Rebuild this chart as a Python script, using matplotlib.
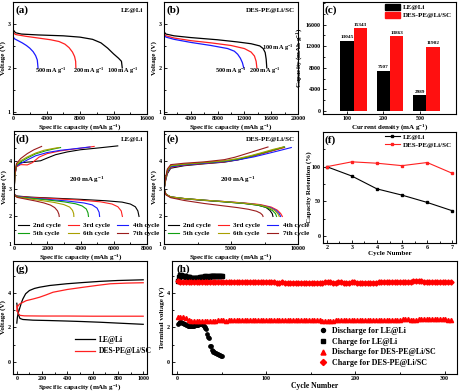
import numpy as np
import matplotlib
matplotlib.use("Agg")
import matplotlib.pyplot as plt
from matplotlib.ticker import AutoMinorLocator, NullLocator
from matplotlib.patches import Patch

plt.rcParams['font.family'] = ['Liberation Serif', 'DejaVu Serif']
plt.rcParams['font.weight'] = 'bold'
plt.rcParams['axes.labelweight'] = 'bold'
plt.rcParams['mathtext.fontset'] = 'custom'
plt.rcParams['mathtext.rm'] = 'Liberation Serif:bold'
plt.rcParams['mathtext.it'] = 'Liberation Serif:bold:italic'
plt.rcParams['mathtext.bf'] = 'Liberation Serif:bold'
plt.rcParams['mathtext.default'] = 'bf'

# ---------------- DATA ----------------
# (a) LE@Li discharge at different current densities
a100_cap = [0, 300, 1000, 3000, 6000, 8000, 9500, 10500, 11300, 12000, 12600, 12950, 13045]
a100_v = [2.87, 2.80, 2.77, 2.75, 2.73, 2.70, 2.65, 2.57, 2.45, 2.32, 2.22, 2.15, 2.00]
a200_cap = [0, 0, 300, 1500, 3000, 4500, 5500, 6200, 6700, 7100, 7350, 7480, 7507]
a200_v = [2.00, 2.81, 2.76, 2.72, 2.68, 2.64, 2.60, 2.54, 2.46, 2.36, 2.26, 2.15, 2.00]
a500_cap = [0, 0, 200, 600, 1100, 1600, 2000, 2400, 2700, 2900, 2989]
a500_v = [3.50, 2.71, 2.66, 2.62, 2.57, 2.51, 2.45, 2.37, 2.28, 2.18, 2.00]

# (b) DES-PE@Li/SC discharge
b100_cap = [0, 300, 1500, 4000, 8000, 11000, 13000, 14300, 14800, 15100, 15250, 15343]
b100_v = [2.82, 2.77, 2.73, 2.69, 2.64, 2.59, 2.55, 2.50, 2.44, 2.35, 2.20, 2.00]
b200_cap = [0, 0, 300, 1500, 4000, 7000, 10000, 12000, 13000, 13500, 13750, 13863]
b200_v = [3.30, 2.78, 2.73, 2.68, 2.62, 2.57, 2.51, 2.44, 2.36, 2.27, 2.15, 2.00]
b500_cap = [0, 300, 1500, 4000, 7000, 9500, 10500, 11000, 11400, 11700, 11902]
b500_v = [2.74, 2.70, 2.65, 2.58, 2.51, 2.44, 2.38, 2.31, 2.22, 2.12, 2.00]

# (c) capacities
c_density = ['100', '200', '500']
c_le = [13045, 7507, 2989]
c_des = [15343, 13863, 11902]

# (d) LE@Li cycling at 200 mA/g
cycle_names = ['2nd cycle', '3rd cycle', '4th cycle', '5th cycle', '6th cycle', '7th cycle']
d_dis_cap = [
    [0, 200, 1000, 2500, 4000, 5500, 6500, 7000, 7300, 7450, 7520],
    [0, 200, 1000, 2500, 4000, 5200, 5900, 6250, 6450, 6520],
    [0, 200, 1000, 2000, 3200, 4200, 4700, 5000, 5120, 5150],
    [0, 200, 1000, 2000, 3000, 3700, 4100, 4350, 4450, 4480],
    [0, 200, 800, 1600, 2400, 3000, 3350, 3520, 3590, 3600],
    [0, 200, 700, 1300, 1800, 2200, 2450, 2620, 2700, 2720],
]
d_dis_v = [
    [2.80, 2.74, 2.70, 2.66, 2.62, 2.57, 2.52, 2.45, 2.35, 2.20, 2.00],
    [2.80, 2.73, 2.69, 2.64, 2.59, 2.53, 2.45, 2.35, 2.20, 2.00],
    [2.79, 2.72, 2.67, 2.62, 2.56, 2.49, 2.42, 2.30, 2.15, 2.00],
    [2.78, 2.71, 2.66, 2.60, 2.53, 2.46, 2.38, 2.27, 2.13, 2.00],
    [2.78, 2.70, 2.65, 2.58, 2.51, 2.43, 2.34, 2.22, 2.10, 2.00],
    [2.77, 2.69, 2.63, 2.56, 2.49, 2.41, 2.32, 2.20, 2.08, 2.00],
]
d_ch_cap = [
    [0, 50, 150, 400, 1000, 1600, 2000, 2500, 3200, 4000, 5000, 6240],
    [0, 50, 150, 400, 800, 1100, 1500, 2000, 2800, 3800, 4820],
    [0, 50, 150, 400, 800, 1300, 2000, 2800, 3700, 4570],
    [0, 50, 150, 400, 800, 1300, 1900, 2400, 2800],
    [0, 50, 150, 400, 800, 1300, 1800, 2300, 2700],
    [0, 50, 150, 400, 800, 1200, 1660],
]
d_ch_v = [
    [2.75, 3.50, 3.85, 3.95, 3.98, 4.02, 4.12, 4.24, 4.34, 4.42, 4.48, 4.56],
    [2.75, 3.50, 3.80, 3.88, 3.87, 3.95, 4.15, 4.28, 4.38, 4.46, 4.54],
    [2.75, 3.50, 3.82, 3.92, 4.05, 4.20, 4.32, 4.40, 4.46, 4.52],
    [2.75, 3.50, 3.85, 3.98, 4.12, 4.27, 4.38, 4.45, 4.50],
    [2.75, 3.50, 3.88, 4.02, 4.16, 4.30, 4.40, 4.46, 4.50],
    [2.75, 3.55, 3.92, 4.10, 4.28, 4.42, 4.54],
]

# (e) DES-PE@Li/SC cycling at 200 mA/g
e_dis_cap = [
    [0, 150, 500, 1500, 3000, 4500, 6000, 7000, 7600, 7900, 8080, 8130],
    [0, 150, 500, 1500, 3000, 4500, 6000, 7200, 8000, 8450, 8700, 8830],
    [0, 150, 500, 1500, 3000, 4500, 6000, 7100, 7900, 8350, 8600, 8700],
    [0, 150, 500, 1500, 3000, 4500, 6000, 7000, 7700, 8100, 8320, 8400],
    [0, 150, 500, 1500, 3000, 4500, 6000, 7100, 7800, 8250, 8500, 8600],
    [0, 0, 150, 500, 1500, 3000, 4500, 5500, 6300, 6900, 7200, 7350, 7390],
]
e_dis_v = [
    [3.00, 2.80, 2.70, 2.64, 2.58, 2.53, 2.47, 2.41, 2.33, 2.22, 2.10, 2.00],
    [3.00, 2.80, 2.71, 2.65, 2.59, 2.54, 2.49, 2.43, 2.34, 2.23, 2.11, 2.00],
    [3.00, 2.80, 2.71, 2.65, 2.59, 2.54, 2.48, 2.42, 2.33, 2.22, 2.10, 2.00],
    [3.00, 2.80, 2.71, 2.65, 2.59, 2.53, 2.47, 2.41, 2.32, 2.21, 2.10, 2.00],
    [3.00, 2.80, 2.71, 2.65, 2.59, 2.54, 2.48, 2.42, 2.33, 2.22, 2.10, 2.00],
    [4.55, 3.00, 2.78, 2.68, 2.58, 2.47, 2.38, 2.32, 2.26, 2.19, 2.12, 2.05, 2.00],
]
e_ch_cap = [
    [0, 100, 250, 500, 1500, 3000, 4500, 5500, 6500, 7500, 8300, 8950],
    [0, 100, 250, 500, 1500, 3000, 4500, 5500, 6500, 7500, 8300, 9000],
    [0, 100, 250, 500, 1500, 3000, 4500, 5600, 6700, 7800, 8700, 9500],
    [0, 100, 250, 500, 1500, 3000, 4500, 5500, 6500, 7500, 8300, 9000],
    [0, 100, 250, 500, 1500, 3000, 4500, 5500, 6500, 7400, 8200, 8900],
    [0, 0, 100, 250, 500, 1500, 3000, 4500, 5300, 6100, 6900, 7760],
]
e_ch_v = [
    [2.95, 3.25, 3.55, 3.75, 3.84, 3.91, 3.97, 4.05, 4.17, 4.31, 4.42, 4.52],
    [2.95, 3.28, 3.60, 3.78, 3.86, 3.92, 3.98, 4.06, 4.17, 4.30, 4.41, 4.50],
    [2.95, 3.30, 3.62, 3.80, 3.87, 3.93, 3.99, 4.06, 4.16, 4.29, 4.40, 4.50],
    [2.95, 3.32, 3.66, 3.83, 3.89, 3.95, 4.01, 4.08, 4.19, 4.32, 4.43, 4.52],
    [2.95, 3.33, 3.68, 3.85, 3.90, 3.96, 4.02, 4.10, 4.21, 4.33, 4.44, 4.52],
    [2.20, 2.95, 3.35, 3.72, 3.88, 3.93, 3.98, 4.06, 4.15, 4.27, 4.39, 4.52],
]

# (f) capacity retention
f_cycles = [2, 3, 4, 5, 6, 7]
f_le = [100, 86.5, 68, 59, 48.5, 36.5]
f_des = [100, 107, 105, 101.5, 106, 90.5]

# (g) first cycle, 1000 mAh/g limited
g_le_ch_cap = [0, 5, 12, 21, 35, 48, 70, 100, 140, 180, 260, 394, 520, 660, 800, 1000]
g_le_ch_v = [2.25, 2.60, 2.85, 3.06, 3.40, 3.65, 3.95, 4.14, 4.26, 4.33, 4.43, 4.53, 4.60, 4.67, 4.72, 4.76]
g_le_dis_cap = [0, 8, 15, 25, 48, 128, 250, 394, 520, 660, 800, 1000]
g_le_dis_v = [3.40, 3.00, 2.70, 2.52, 2.46, 2.42, 2.40, 2.37, 2.34, 2.30, 2.25, 2.18]
g_des_ch_cap = [0, 5, 21, 74, 130, 180, 230, 287, 400, 527, 640, 740, 870, 1000]
g_des_ch_v = [2.95, 3.20, 3.35, 3.55, 3.65, 3.75, 3.88, 4.04, 4.20, 4.33, 4.44, 4.53, 4.57, 4.59]
g_des_dis_cap = [0, 5, 12, 25, 60, 200, 400, 600, 800, 1000]
g_des_dis_v = [3.25, 3.00, 2.80, 2.70, 2.67, 2.66, 2.66, 2.65, 2.65, 2.65]

# (h) terminal voltage vs cycle
h_le_cycles = list(range(1, 51))
h_le_dis = [2.20, 2.28, 2.32, 2.33, 2.30, 2.28, 2.25, 2.22, 2.18, 2.15,
            2.12, 2.10, 2.10, 2.08, 2.07, 2.08, 2.10, 2.10, 2.11, 2.12,
            2.12, 2.13, 2.15, 2.16, 2.17, 2.18, 2.18, 2.17, 2.15, 2.10,
            2.05, 1.98, 1.88, 1.60, 1.45, 1.38, 0.95, 0.90, 0.68, 0.62,
            0.58, 0.55, 0.53, 0.50, 0.48, 0.45, 0.42, 0.40, 0.37, 0.35]
h_le_ch = [4.70, 4.90, 5.02, 5.04, 5.02, 5.00, 4.98, 4.97, 4.96, 4.95,
           4.93, 4.92, 4.90, 4.90, 4.88, 4.87, 4.86, 4.86, 4.85, 4.85,
           4.85, 4.86, 4.86, 4.87, 4.88, 4.90, 4.92, 4.94, 4.95, 4.95,
           4.95, 4.96, 4.96, 4.95, 4.95, 4.95, 4.96, 4.96, 4.96, 4.97,
           4.97, 4.97, 4.98, 4.98, 4.98, 4.99, 4.99, 5.00, 5.00, 5.00]
h_des_cycles = list(range(1, 309, 3))
h_des_ch = [4.70, 4.66, 4.63, 4.62, 4.61, 4.61, 4.62, 4.62, 4.61, 4.61,
            4.62, 4.62, 4.63, 4.62, 4.62, 4.61, 4.62, 4.63, 4.63, 4.62,
            4.62, 4.61, 4.62, 4.63, 4.64, 4.64, 4.63, 4.62, 4.63, 4.64,
            4.64, 4.64, 4.63, 4.62, 4.62, 4.61, 4.61, 4.60, 4.60, 4.61,
            4.60, 4.59, 4.59, 4.58, 4.58, 4.59, 4.58, 4.58, 4.57, 4.58,
            4.58, 4.57, 4.58, 4.58, 4.59, 4.63, 4.66, 4.63, 4.60, 4.60,
            4.61, 4.61, 4.60, 4.60, 4.60, 4.61, 4.61, 4.60, 4.60, 4.60,
            4.59, 4.59, 4.60, 4.60, 4.60, 4.61, 4.61, 4.62, 4.62, 4.62,
            4.61, 4.62, 4.62, 4.63, 4.63, 4.64, 4.65, 4.66, 4.68, 4.70,
            4.70, 4.68, 4.65, 4.62, 4.61, 4.61, 4.62, 4.62, 4.63, 4.63,
            4.64, 4.64, 4.65]
h_des_dis = [2.63, 2.62, 2.58, 2.52, 2.45, 2.40, 2.39, 2.38, 2.38, 2.39,
             2.39, 2.39, 2.40, 2.40, 2.40, 2.41, 2.41, 2.41, 2.40, 2.41,
             2.41, 2.42, 2.42, 2.42, 2.41, 2.41, 2.42, 2.42, 2.43, 2.43,
             2.43, 2.43, 2.42, 2.42, 2.43, 2.43, 2.43, 2.44, 2.44, 2.43,
             2.43, 2.43, 2.44, 2.44, 2.44, 2.44, 2.43, 2.43, 2.44, 2.44,
             2.44, 2.44, 2.43, 2.41, 2.38, 2.35, 2.37, 2.39, 2.40, 2.41,
             2.41, 2.42, 2.42, 2.42, 2.42, 2.42, 2.43, 2.43, 2.43, 2.43,
             2.43, 2.43, 2.44, 2.44, 2.44, 2.44, 2.44, 2.44, 2.45, 2.45,
             2.45, 2.45, 2.45, 2.45, 2.46, 2.46, 2.46, 2.45, 2.45, 2.45,
             2.46, 2.46, 2.46, 2.46, 2.46, 2.46, 2.47, 2.47, 2.47, 2.46,
             2.46, 2.45, 2.44]

cycle_colors = ['#000000', '#ff2020', '#1a1aff', '#11a011', '#a8a000', '#9b1c1c']

# ---------------- FIGURE ----------------
W, H = 468, 392
fig = plt.figure(figsize=(W / 100, H / 100), dpi=100)

def make_ax(l, r, t, b):
    return fig.add_axes([l / W, 1 - b / H, (r - l) / W, (b - t) / H])

TICK = 4.3
LAB = 5.0
ANN = 5.0
RATE = 4.5
PL = 8

def style(ax, minor_x=True):
    ax.tick_params(which='both', direction='in', labelsize=TICK, pad=1.5, width=0.6)
    ax.tick_params(which='major', length=2.2)
    ax.tick_params(which='minor', length=1.2)
    if minor_x:
        ax.xaxis.set_minor_locator(AutoMinorLocator(2))
    ax.yaxis.set_minor_locator(AutoMinorLocator(2))
    for s in ax.spines.values():
        s.set_linewidth(0.8)
    for lbl in ax.get_xticklabels() + ax.get_yticklabels():
        lbl.set_fontweight('bold')

def panel_label(ax, s):
    ax.text(0.015, 0.93, s, transform=ax.transAxes, fontsize=PL, fontweight='bold', va='center', ha='left')

def corner(ax, s):
    ax.text(0.975, 0.925, s, transform=ax.transAxes, fontsize=ANN, fontweight='bold', va='center', ha='right')

def cycle_legend(ax, lines):
    order = [0, 3, 1, 4, 2, 5]
    ax.legend([lines[i] for i in order], [cycle_names[i] for i in order],
              loc='lower left', bbox_to_anchor=(0.0, 0.03), ncol=3, frameon=False, fontsize=ANN,
              handlelength=1.6, handletextpad=0.6, columnspacing=1.0, labelspacing=0.35,
              borderaxespad=0.2)

cap_label = 'Specific capacity (mAh g$^{-1}$)'
lw = 0.9

# (a)
ax = make_ax(13, 147, 2, 114)
ax.plot(a100_cap, a100_v, color='k', lw=lw)
ax.plot(a200_cap, a200_v, color='#ff2020', lw=lw)
ax.plot(a500_cap, a500_v, color='#1a1aff', lw=lw)
ax.set_xlim(0, 16000); ax.set_ylim(0.95, 3.5)
ax.set_xticks([0, 4000, 8000, 12000, 16000]); ax.set_yticks([1, 2, 3])
ax.set_xlabel(cap_label, fontsize=LAB, labelpad=0.5)
ax.set_ylabel('Voltage (V)', fontsize=LAB, labelpad=1)
ax.text(2600, 1.93, '500 mA g$^{-1}$', fontsize=RATE, va='center')
ax.text(7200, 1.93, '200 mA g$^{-1}$', fontsize=RATE, va='center')
ax.text(11200, 1.93, '100 mA g$^{-1}$', fontsize=RATE, va='center')
panel_label(ax, '(a)'); corner(ax, 'LE@Li')
style(ax)

# (b)
ax = make_ax(164, 298, 2, 114)
ax.plot(b100_cap, b100_v, color='k', lw=lw)
ax.plot(b200_cap, b200_v, color='#ff2020', lw=lw)
ax.plot(b500_cap, b500_v, color='#1a1aff', lw=lw)
ax.set_xlim(0, 20000); ax.set_ylim(0.95, 3.5)
ax.set_xticks([0, 4000, 8000, 12000, 16000, 20000]); ax.set_yticks([1, 2, 3])
ax.set_xlabel(cap_label, fontsize=LAB, labelpad=0.5)
ax.set_ylabel('Voltage (V)', fontsize=LAB, labelpad=1)
ax.text(7600, 1.93, '500 mA g$^{-1}$', fontsize=RATE, va='center')
ax.text(12700, 1.93, '200 mA g$^{-1}$', fontsize=RATE, va='center')
ax.text(14600, 2.46, '100 mA g$^{-1}$', fontsize=RATE, va='center')
panel_label(ax, '(b)'); corner(ax, 'DES-PE@Li/SC')
style(ax)

# (c)
ax = make_ax(323, 456, 2, 114)
xc = np.arange(1, len(c_density) + 1)
bw = 0.36
ax.bar(xc, c_le, width=bw, color='k', label='LE@Li')
ax.bar(xc + bw, c_des, width=bw, color='#ff1010', label='DES-PE@Li/SC')
for i in range(len(xc)):
    ax.text(xc[i], c_le[i] + 250, str(c_le[i]), fontsize=3.8, ha='center', va='bottom')
    ax.text(xc[i] + bw, c_des[i] + 250, str(c_des[i]), fontsize=3.8, ha='center', va='bottom')
ax.set_xlim(0.34, 3.99); ax.set_ylim(-550, 20200)
ax.set_xticks(xc); ax.set_xticklabels(c_density)
ax.set_yticks([0, 4000, 8000, 12000, 16000])
ax.set_xlabel('Current density (mA g$^{-1}$)', fontsize=LAB, labelpad=0.5)
ax.set_ylabel('Capacity (mAh g$^{-1}$)', fontsize=LAB, labelpad=1)
style(ax, minor_x=False)
ax.xaxis.set_minor_locator(NullLocator())
ax.legend(handles=[Patch(color='k', label='LE@Li'), Patch(color='#ff1010', label='DES-PE@Li/SC')],
          loc='upper right', bbox_to_anchor=(1.0, 1.02), frameon=False, fontsize=ANN,
          handlelength=2.2, handleheight=0.9, handletextpad=0.4, labelspacing=0.25, borderaxespad=0.2)
panel_label(ax, '(c)')

# (d)
ax = make_ax(14, 147, 131, 244)
dl = []
for i in range(6):
    ax.plot(d_ch_cap[i], d_ch_v[i], color=cycle_colors[i], lw=0.8)
    ln, = ax.plot(d_dis_cap[i], d_dis_v[i], color=cycle_colors[i], lw=0.8)
    dl.append(ln)
ax.set_xlim(0, 8000); ax.set_ylim(1, 5.1)
ax.set_xticks([0, 2000, 4000, 6000, 8000]); ax.set_yticks([1, 2, 3, 4])
ax.set_xlabel(cap_label, fontsize=LAB, labelpad=0.5)
ax.set_ylabel('Voltage (V)', fontsize=LAB, labelpad=1)
ax.text(0.55, 0.57, '200 mA g$^{-1}$', transform=ax.transAxes, fontsize=ANN, ha='center', va='center')
cycle_legend(ax, dl)
panel_label(ax, '(d)'); corner(ax, 'LE@Li')
style(ax)

# (e)
ax = make_ax(164, 298, 131, 244)
el = []
for i in range(6):
    ax.plot(e_ch_cap[i], e_ch_v[i], color=cycle_colors[i], lw=0.8)
    ln, = ax.plot(e_dis_cap[i], e_dis_v[i], color=cycle_colors[i], lw=0.8)
    el.append(ln)
ax.set_xlim(0, 10000); ax.set_ylim(1, 5.1)
ax.set_xticks([0, 5000, 10000]); ax.set_yticks([1, 2, 3, 4])
ax.set_xlabel(cap_label, fontsize=LAB, labelpad=0.5)
ax.set_ylabel('Voltage (V)', fontsize=LAB, labelpad=1)
ax.text(0.55, 0.57, '200 mA g$^{-1}$', transform=ax.transAxes, fontsize=ANN, ha='center', va='center')
cycle_legend(ax, el)
panel_label(ax, '(e)'); corner(ax, 'DES-PE@Li/SC')
style(ax)

# (f)
ax = make_ax(323, 456, 132, 243)
ax.plot(f_cycles, f_le, color='k', lw=0.8, marker='s', ms=1.8, label='LE@Li')
ax.plot(f_cycles, f_des, color='#ff2020', lw=0.8, marker='s', ms=1.8, label='DES-PE@Li/SC')
ax.set_xlim(1.85, 7.15); ax.set_ylim(-10, 150)
ax.set_xticks(f_cycles); ax.set_yticks([0, 50, 100])
ax.set_xlabel('Cycle Number', fontsize=LAB, labelpad=0.5)
ax.set_ylabel('Capacity Retention (%)', fontsize=LAB, labelpad=0.3)
ax.legend(loc='upper right', bbox_to_anchor=(1.0, 1.02), frameon=False, fontsize=ANN,
          handlelength=2.2, handletextpad=0.4, labelspacing=0.3, borderaxespad=0.2)
panel_label(ax, '(f)')
style(ax)

# (g)
ax = make_ax(13, 147, 261, 374)
ax.plot(g_le_ch_cap, g_le_ch_v, color='k', lw=lw, label='LE@Li')
ax.plot(g_le_dis_cap, g_le_dis_v, color='k', lw=lw)
ax.plot(g_des_ch_cap, g_des_ch_v, color='#ff2020', lw=lw, label='DES-PE@Li/SC')
ax.plot(g_des_dis_cap, g_des_dis_v, color='#ff2020', lw=lw)
ax.set_xlim(-30, 1030); ax.set_ylim(-0.7, 5.85)
ax.set_xticks([0, 200, 400, 600, 800, 1000]); ax.set_yticks([0, 2, 4])
ax.set_xlabel(cap_label, fontsize=LAB, labelpad=0.5)
ax.set_ylabel('Voltage (V)', fontsize=LAB, labelpad=1)
ax.legend(loc='upper left', bbox_to_anchor=(0.43, 0.38), frameon=False, fontsize=ANN + 0.5,
          handlelength=2.6, handletextpad=0.5, labelspacing=0.5, borderaxespad=0.2)
panel_label(ax, '(g)')
style(ax)

# (h)
ax = make_ax(172, 457, 261, 374)
ax.plot(h_le_cycles, h_le_dis, ls='none', marker='o', ms=2.4, color='k', label='Discharge for LE@Li')
ax.plot(h_le_cycles, h_le_ch, ls='none', marker='s', ms=2.4, color='k', label='Charge for LE@Li')
ax.plot(h_des_cycles, h_des_dis, ls='none', marker='^', ms=3.0, color='#ff0000', label='Discharge for DES-PE@Li/SC')
ax.plot(h_des_cycles, h_des_ch, ls='none', marker='D', ms=2.6, color='#ff0000', label='Charge for DES-PE@Li/SC')
ax.set_xlim(-5.5, 314); ax.set_ylim(-0.7, 5.85)
ax.set_xticks([0, 100, 200, 300]); ax.set_yticks([0, 2, 4])
ax.set_xlabel('Cycle Number', fontsize=LAB + 0.5, labelpad=0.5)
ax.set_ylabel('Terminal voltage (V)', fontsize=LAB, labelpad=1)
ax.legend(loc='upper left', bbox_to_anchor=(0.5, 0.46), frameon=False, fontsize=ANN + 0.8,
          handlelength=1.0, handletextpad=0.6, labelspacing=0.35, borderaxespad=0.2, markerscale=1.2)
panel_label(ax, '(h)')
style(ax)

fig.savefig('out.png', dpi=100)
